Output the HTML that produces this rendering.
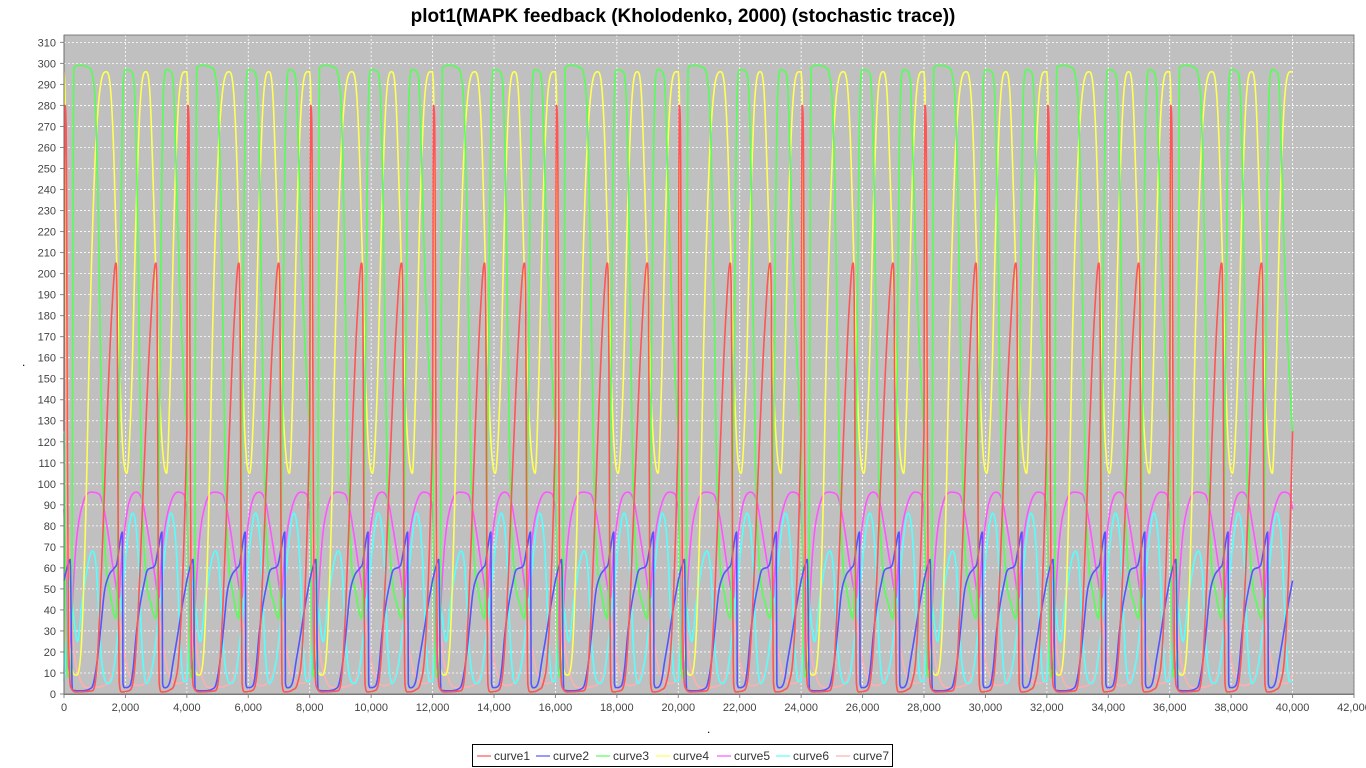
<!DOCTYPE html>
<html><head><meta charset="utf-8">
<style>
html,body{margin:0;padding:0;background:#fff;width:1366px;height:768px;overflow:hidden}
svg text{font-family:"Liberation Sans",sans-serif}
</style></head>
<body>
<svg id="chart" width="1366" height="768" xmlns="http://www.w3.org/2000/svg">
<text x="683" y="22" text-anchor="middle" font-size="19" font-weight="bold" fill="#000">plot1(MAPK feedback (Kholodenko, 2000) (stochastic trace))</text>
<rect x="64" y="35" width="1290" height="659" fill="#c0c0c0"/>
<g id="grid"></g>
<g id="series"></g>
<g id="axes"></g>
<text x="22" y="366" font-size="12" fill="#000">.</text>
<text x="707" y="733" font-size="12" fill="#000">.</text>
<g>
<rect x="472.5" y="744.5" width="420" height="22" fill="#fff" stroke="#000"/>
</g>
<g id="legend-items"></g>
</svg>
<script>
// ---- data (one 4000-unit repeating block) ----
const periodLength = 4000;
const periodCount = 10;
const xTicks = [0,2000,4000,6000,8000,10000,12000,14000,16000,18000,20000,22000,24000,26000,28000,30000,32000,34000,36000,38000,40000,42000];
const xTickLabels = ["0","2,000","4,000","6,000","8,000","10,000","12,000","14,000","16,000","18,000","20,000","22,000","24,000","26,000","28,000","30,000","32,000","34,000","36,000","38,000","40,000","42,000"];
const yTicks = [0,10,20,30,40,50,60,70,80,90,100,110,120,130,140,150,160,170,180,190,200,210,220,230,240,250,260,270,280,290,300,310];
const seriesNames = ["curve1","curve2","curve3","curve4","curve5","curve6","curve7"];

const curve1T = [0,30,70,110,160,230,400,900,1000,1100,1250,1400,1550,1690,1730,1770,1800,1880,2100,2250,2400,2600,2800,2990,3030,3070,3100,3180,3450,3600,3750,3900,4000];
const curve1V = [125,280,270,120,20,3,1,1.5,4,20,70,130,180,205,185,60,5,1,1.5,6,35,105,170,205,185,60,5,1,2,5,20,70,125];

const curve2T = [0,100,200,270,500,900,1000,1100,1200,1310,1450,1640,1720,1800,1900,1920,1980,2150,2250,2350,2450,2600,2720,2950,3080,3190,3210,3280,3450,3550,3700,3850,4000];
const curve2V = [54,60,64,2,1.5,3,8,18,32,48,56,60,62,70,77,5,3,4,12,28,40,52,59,61,70,77,5,3,6,15,28,42,54];

const curve3T = [0,40,90,150,220,260,290,320,500,800,930,1020,1100,1180,1260,1350,1500,1690,1730,1800,1870,1930,2000,2200,2300,2380,2450,2530,2650,2850,2990,3040,3110,3180,3250,3330,3480,3560,3640,3720,3820,3920,4000];
const curve3V = [124,60,15,8,12,60,200,298,299,298,294,280,240,170,100,65,48,36,50,130,240,290,297,296,285,240,170,100,60,42,36,50,130,240,290,297,296,290,255,215,175,145,124];

const curve4T = [0,40,90,140,200,390,550,700,850,1000,1150,1370,1500,1600,1700,1800,1900,2040,2200,2350,2500,2670,2800,2900,3000,3150,3340,3450,3600,3750,3940,4000];
const curve4V = [296,280,150,50,18,9,20,80,180,250,285,296,290,265,215,160,120,105,145,230,285,296,285,245,195,130,105,145,235,285,296,296];

const curve5T = [0,60,130,180,260,400,600,880,1150,1300,1450,1600,1800,1830,1950,2100,2350,2550,2700,2900,3100,3130,3250,3450,3700,3900,4000];
const curve5V = [88,60,12,15,40,72,90,96,95,88,75,60,46,55,75,90,96,92,80,62,46,55,75,90,96,95,88];

const curve6T = [0,80,150,250,440,600,930,1050,1200,1420,1600,1900,2235,2400,2550,2680,2900,3200,3480,3650,3800,3900,4000];
const curve6V = [6,30,55,45,25,45,68,60,20,5,10,50,86,70,20,5,15,55,86,70,20,6,6];

const curve7T = [0,60,120,180,300,500,800,1300,1600,1750,1800,1900,2100,2400,2800,3050,3100,3200,3400,3700,3900,4000];
const curve7V = [10,40,80,60,25,8,3,4,12,28,35,25,10,4,10,28,35,25,10,5,6,10];

const seriesT = [curve1T,curve2T,curve3T,curve4T,curve5T,curve6T,curve7T];
const seriesV = [curve1V,curve2V,curve3V,curve4V,curve5V,curve6V,curve7V];
const colors = ["#ff5555","#5555ff","#55ff55","#ffff55","#ff55ff","#55ffff","#ffafaf"];

// ---- axes ----
const X0=64, X1=1354, Y0=694, YT=35;
const xMax=42000, yMin=0, yMax=(Y0-YT)/2.102;
function xs(t){return X0+(t/xMax)*(X1-X0);}
function ys(v){return Y0-(v-yMin)/(yMax-yMin)*(Y0-YT);}
const NS="http://www.w3.org/2000/svg";
function mk(tag,attrs,parent){const e=document.createElementNS(NS,tag);for(const k in attrs)e.setAttribute(k,attrs[k]);parent.appendChild(e);return e;}

const grid=document.getElementById('grid'), axes=document.getElementById('axes');
yTicks.forEach(v=>{
  const y=ys(v);
  const gl=mk('line',{x1:X0,x2:X1,y1:y,y2:y,stroke:'#ffffff','stroke-width':0.8,'stroke-dasharray':'2,2'},grid);
  
  
  const tk=mk('line',{x1:X0-4,x2:X0,y1:y,y2:y,stroke:'#888'},axes);
  
  
  const tx=mk('text',{x:X0-8,y:y+4,'text-anchor':'end','font-size':11,fill:'#444'},axes);
  tx.textContent=v;
  
  
});
xTicks.forEach((t,i)=>{
  const x=xs(t);
  const gl=mk('line',{x1:x,x2:x,y1:YT,y2:Y0,stroke:'#ffffff','stroke-width':0.8,'stroke-dasharray':'2,2'},grid);
  
  
  const tk=mk('line',{x1:x,x2:x,y1:Y0,y2:Y0+4,stroke:'#888'},axes);
  
  
  const tx=mk('text',{x:x,y:Y0+17,'text-anchor':'middle','font-size':11,fill:'#444'},axes);
  tx.textContent=xTickLabels[i];
  
  
});
const ax1=mk('line',{x1:X0,x2:X0,y1:YT,y2:Y0+0.5,stroke:'#888'},axes);


const ax2=mk('line',{x1:X0,x2:X1,y1:Y0+0.5,y2:Y0+0.5,stroke:'#888'},axes);


const ob=mk('rect',{x:X0,y:YT,width:X1-X0,height:Y0-YT,fill:'none',stroke:'#666','stroke-width':0.8},axes);



// monotone cubic interpolation
function monotone(T,V){
  const n=T.length,d=[],m=new Array(n);
  for(let i=0;i<n-1;i++)d.push((V[i+1]-V[i])/(T[i+1]-T[i]));
  m[0]=d[0];m[n-1]=d[n-2];
  for(let i=1;i<n-1;i++){m[i]=(d[i-1]*d[i]<=0)?0:(d[i-1]+d[i])/2;}
  for(let i=0;i<n-1;i++){
    if(d[i]===0){m[i]=0;m[i+1]=0;continue;}
    const a=m[i]/d[i],b=m[i+1]/d[i],s=a*a+b*b;
    if(s>9){const tt=3/Math.sqrt(s);m[i]=tt*a*d[i];m[i+1]=tt*b*d[i];}
  }
  return function(t){
    let i=0;while(i<n-2&&t>T[i+1])i++;
    const h=T[i+1]-T[i],u=(t-T[i])/h,u2=u*u,u3=u2*u;
    return (2*u3-3*u2+1)*V[i]+(u3-2*u2+u)*h*m[i]+(-2*u3+3*u2)*V[i+1]+(u3-u2)*h*m[i+1];
  };
}

const sg=document.getElementById('series');
for(let s=seriesNames.length-1;s>=0;s--){
  const f=monotone(seriesT[s],seriesV[s]);
  let d='';
  const step=10;
  for(let t=0;t<=periodLength*periodCount;t+=step){
    const local=(t===periodLength*periodCount)?periodLength:(t%periodLength);
    const v=f(local);
    d+=(t===0?'M':'L')+xs(t).toFixed(2)+','+ys(v).toFixed(2);
  }
  const p=mk('path',{d:d,fill:'none',stroke:colors[s],'stroke-width':1.6,'stroke-linejoin':'round'},sg);
  
  
}

// legend
const lg=document.getElementById('legend-items');
const legendX=[477,536,596,656,717,776,836];
seriesNames.forEach((nm,i)=>{
  const g=mk('g',{},lg);
  
  
  mk('line',{x1:legendX[i],x2:legendX[i]+14,y1:756,y2:756,stroke:colors[i],'stroke-width':1.2},g);
  const t=mk('text',{x:legendX[i]+17,y:760,'font-size':12,fill:'#333'},g);
  t.textContent=nm;
});
</script>
</body></html>
